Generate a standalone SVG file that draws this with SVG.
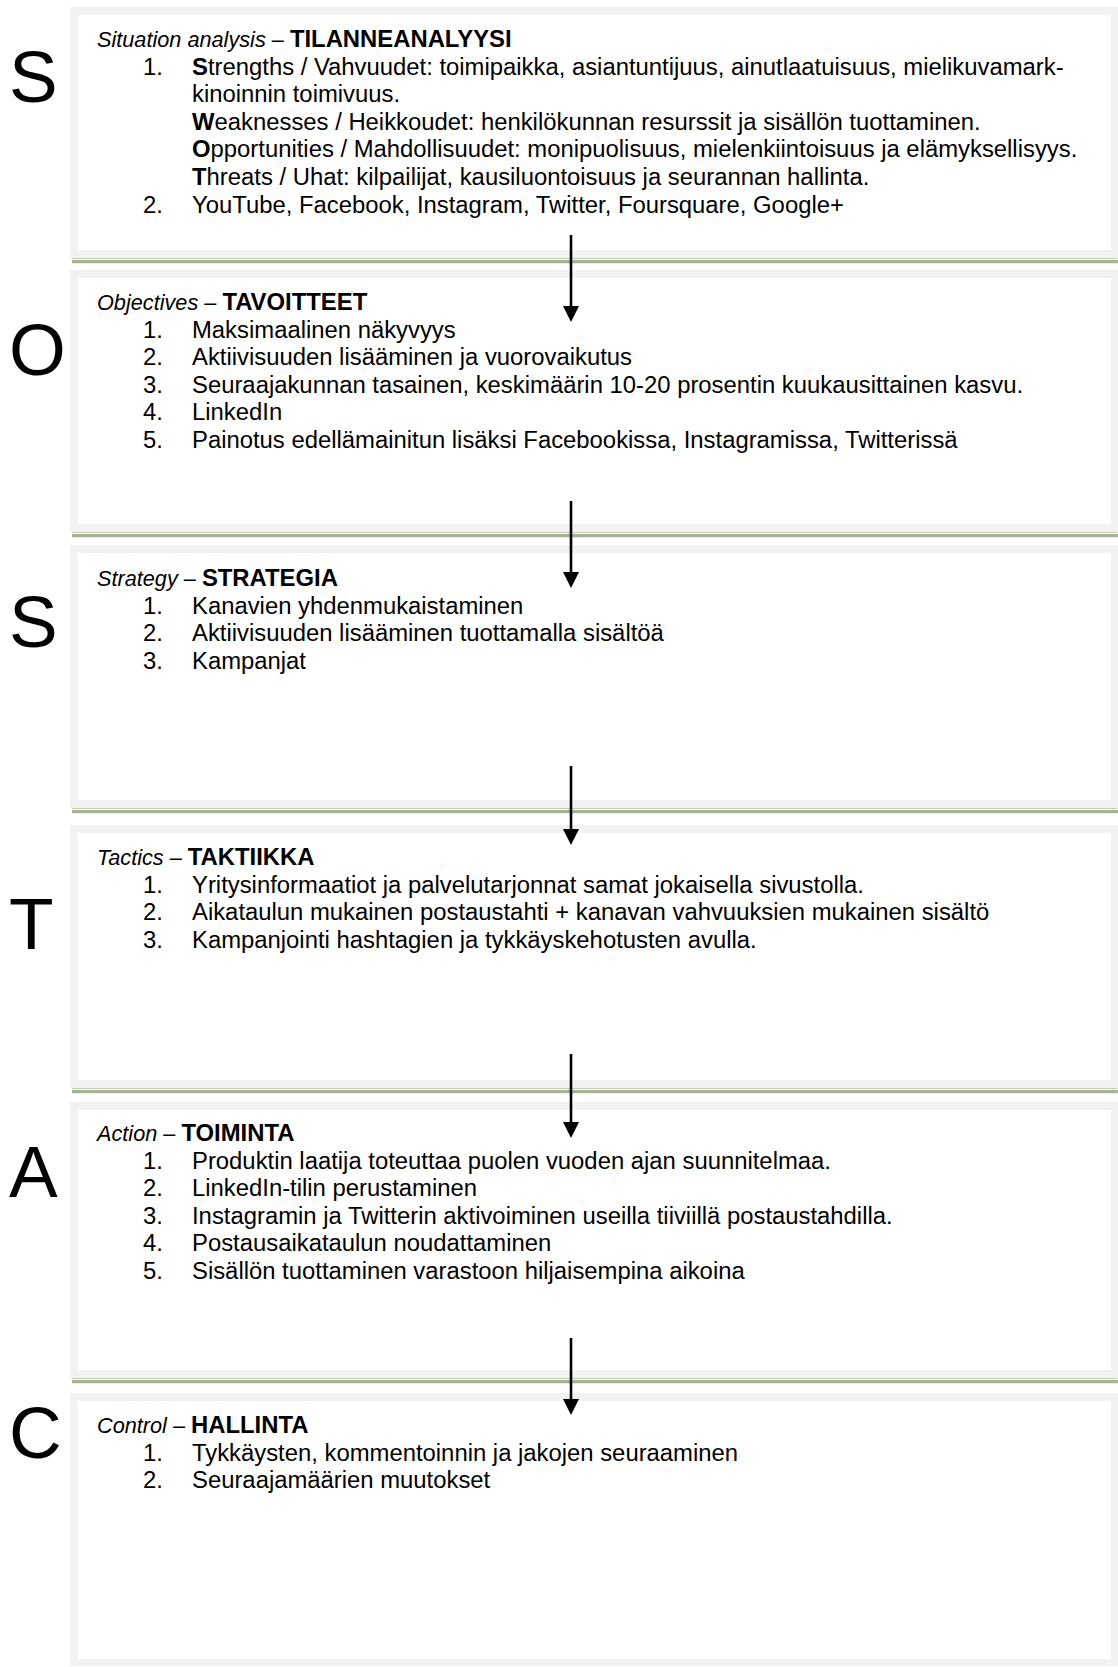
<svg xmlns="http://www.w3.org/2000/svg" width="1118" height="1667" viewBox="0 0 1118 1667">
<style>
  .frame { fill: #f2f2f2; }
  .inner { fill: #ffffff; }
  .g1 { stroke: #c3ccb4; stroke-width: 1; }
  .g2 { stroke: #a7b292; stroke-width: 3.2; }
  text { font-family: "Liberation Sans", Arial, sans-serif; fill: #000; }
  .big { font-size: 73px; }
  .t { font-size: 23.85px; }
  .it { font-style: italic; font-size: 21.7px; }
  .bd { font-weight: bold; font-size: 23.85px; }
  .b { font-weight: bold; }
  .conn { stroke: #000; stroke-width: 2.6; fill: none; }
</style>
<defs>
  <marker id="arr" markerUnits="userSpaceOnUse" markerWidth="16" markerHeight="16" refX="6" refY="8" orient="auto" viewBox="0 0 16 16">
    <path d="M0,0 L16,8 L0,16 Z" fill="#000"/>
  </marker>
</defs>
<rect width="1118" height="1667" fill="#fff"/>

<g id="box-situation">
  <rect class="frame" x="70" y="7" width="1048" height="251"/>
  <rect class="inner" x="78" y="15" width="1033" height="235"/>
  <line class="g1" x1="72" y1="258.5" x2="1117" y2="258.5"/>
  <line class="g2" x1="72" y1="261.6" x2="1118" y2="261.6"/>
  <text class="big" x="9" y="102">S</text>
  <text x="97" y="47"><tspan class="it">Situation analysis – </tspan><tspan class="bd">TILANNEANALYYSI</tspan></text>
  <text class="t" x="143" y="74.6">1.</text>
  <text class="t" x="192" y="74.6"><tspan class="b">S</tspan>trengths / Vahvuudet: toimipaikka, asiantuntijuus, ainutlaatuisuus, mielikuvamark-</text>
  <text class="t" x="192" y="102.2">kinoinnin toimivuus.</text>
  <text class="t" x="192" y="129.8"><tspan class="b">W</tspan>eaknesses / Heikkoudet: henkilökunnan resurssit ja sisällön tuottaminen.</text>
  <text class="t" x="192" y="157.4"><tspan class="b">O</tspan>pportunities / Mahdollisuudet: monipuolisuus, mielenkiintoisuus ja elämyksellisyys.</text>
  <text class="t" x="192" y="185"><tspan class="b">T</tspan>hreats / Uhat: kilpailijat, kausiluontoisuus ja seurannan hallinta.</text>
  <text class="t" x="143" y="212.6">2.</text>
  <text class="t" x="192" y="212.6">YouTube, Facebook, Instagram, Twitter, Foursquare, Google+</text>
</g>

<g id="box-objectives">
  <rect class="frame" x="70" y="270" width="1048" height="262"/>
  <rect class="inner" x="78" y="278" width="1033" height="246"/>
  <line class="g1" x1="72" y1="532.5" x2="1117" y2="532.5"/>
  <line class="g2" x1="72" y1="535.6" x2="1118" y2="535.6"/>
  <text class="big" x="9" y="375">O</text>
  <text x="97" y="310"><tspan class="it">Objectives – </tspan><tspan class="bd">TAVOITTEET</tspan></text>
  <text class="t" x="143" y="337.6">1.</text>
  <text class="t" x="192" y="337.6">Maksimaalinen näkyvyys</text>
  <text class="t" x="143" y="365.2">2.</text>
  <text class="t" x="192" y="365.2">Aktiivisuuden lisääminen ja vuorovaikutus</text>
  <text class="t" x="143" y="392.8">3.</text>
  <text class="t" x="192" y="392.8">Seuraajakunnan tasainen, keskimäärin 10-20 prosentin kuukausittainen kasvu.</text>
  <text class="t" x="143" y="420.4">4.</text>
  <text class="t" x="192" y="420.4">LinkedIn</text>
  <text class="t" x="143" y="448">5.</text>
  <text class="t" x="192" y="448">Painotus edellämainitun lisäksi Facebookissa, Instagramissa, Twitterissä</text>
</g>

<g id="box-strategy">
  <rect class="frame" x="70" y="545" width="1048" height="263"/>
  <rect class="inner" x="78" y="553" width="1033" height="247"/>
  <line class="g1" x1="72" y1="808.5" x2="1117" y2="808.5"/>
  <line class="g2" x1="72" y1="811.6" x2="1118" y2="811.6"/>
  <text class="big" x="9" y="647">S</text>
  <text x="97" y="586"><tspan class="it">Strategy – </tspan><tspan class="bd">STRATEGIA</tspan></text>
  <text class="t" x="143" y="613.6">1.</text>
  <text class="t" x="192" y="613.6">Kanavien yhdenmukaistaminen</text>
  <text class="t" x="143" y="641.2">2.</text>
  <text class="t" x="192" y="641.2">Aktiivisuuden lisääminen tuottamalla sisältöä</text>
  <text class="t" x="143" y="668.8">3.</text>
  <text class="t" x="192" y="668.8">Kampanjat</text>
</g>

<g id="box-tactics">
  <rect class="frame" x="70" y="825" width="1048" height="263"/>
  <rect class="inner" x="78" y="833" width="1033" height="247"/>
  <line class="g1" x1="72" y1="1088.5" x2="1117" y2="1088.5"/>
  <line class="g2" x1="72" y1="1091.6" x2="1118" y2="1091.6"/>
  <text class="big" x="9" y="949">T</text>
  <text x="97" y="865"><tspan class="it">Tactics – </tspan><tspan class="bd">TAKTIIKKA</tspan></text>
  <text class="t" x="143" y="892.6">1.</text>
  <text class="t" x="192" y="892.6">Yritysinformaatiot ja palvelutarjonnat samat jokaisella sivustolla.</text>
  <text class="t" x="143" y="920.2">2.</text>
  <text class="t" x="192" y="920.2">Aikataulun mukainen postaustahti + kanavan vahvuuksien mukainen sisältö</text>
  <text class="t" x="143" y="947.8">3.</text>
  <text class="t" x="192" y="947.8">Kampanjointi hashtagien ja tykkäyskehotusten avulla.</text>
</g>

<g id="box-action">
  <rect class="frame" x="70" y="1102" width="1048" height="276"/>
  <rect class="inner" x="78" y="1110" width="1033" height="260"/>
  <line class="g1" x1="72" y1="1378.5" x2="1117" y2="1378.5"/>
  <line class="g2" x1="72" y1="1381.6" x2="1118" y2="1381.6"/>
  <text class="big" x="9" y="1197">A</text>
  <text x="97" y="1141"><tspan class="it">Action – </tspan><tspan class="bd">TOIMINTA</tspan></text>
  <text class="t" x="143" y="1168.6">1.</text>
  <text class="t" x="192" y="1168.6">Produktin laatija toteuttaa puolen vuoden ajan suunnitelmaa.</text>
  <text class="t" x="143" y="1196.2">2.</text>
  <text class="t" x="192" y="1196.2">LinkedIn-tilin perustaminen</text>
  <text class="t" x="143" y="1223.8">3.</text>
  <text class="t" x="192" y="1223.8">Instagramin ja Twitterin aktivoiminen useilla tiiviillä postaustahdilla.</text>
  <text class="t" x="143" y="1251.4">4.</text>
  <text class="t" x="192" y="1251.4">Postausaikataulun noudattaminen</text>
  <text class="t" x="143" y="1279">5.</text>
  <text class="t" x="192" y="1279">Sisällön tuottaminen varastoon hiljaisempina aikoina</text>
</g>

<g id="box-control">
  <rect class="frame" x="70" y="1393" width="1048" height="273"/>
  <rect class="inner" x="78" y="1401" width="1033" height="258"/>
  <text class="big" x="9" y="1458">C</text>
  <text x="97" y="1433"><tspan class="it">Control – </tspan><tspan class="bd">HALLINTA</tspan></text>
  <text class="t" x="143" y="1460.6">1.</text>
  <text class="t" x="192" y="1460.6">Tykkäysten, kommentoinnin ja jakojen seuraaminen</text>
  <text class="t" x="143" y="1488.2">2.</text>
  <text class="t" x="192" y="1488.2">Seuraajamäärien muutokset</text>
</g>

<g id="connectors">
  <line class="conn" x1="571" y1="235" x2="571" y2="312" marker-end="url(#arr)"/>
  <line class="conn" x1="571" y1="501" x2="571" y2="578" marker-end="url(#arr)"/>
  <line class="conn" x1="571" y1="766" x2="571" y2="835" marker-end="url(#arr)"/>
  <line class="conn" x1="571" y1="1054" x2="571" y2="1128" marker-end="url(#arr)"/>
  <line class="conn" x1="571" y1="1338" x2="571" y2="1405" marker-end="url(#arr)"/>
</g>
</svg>
